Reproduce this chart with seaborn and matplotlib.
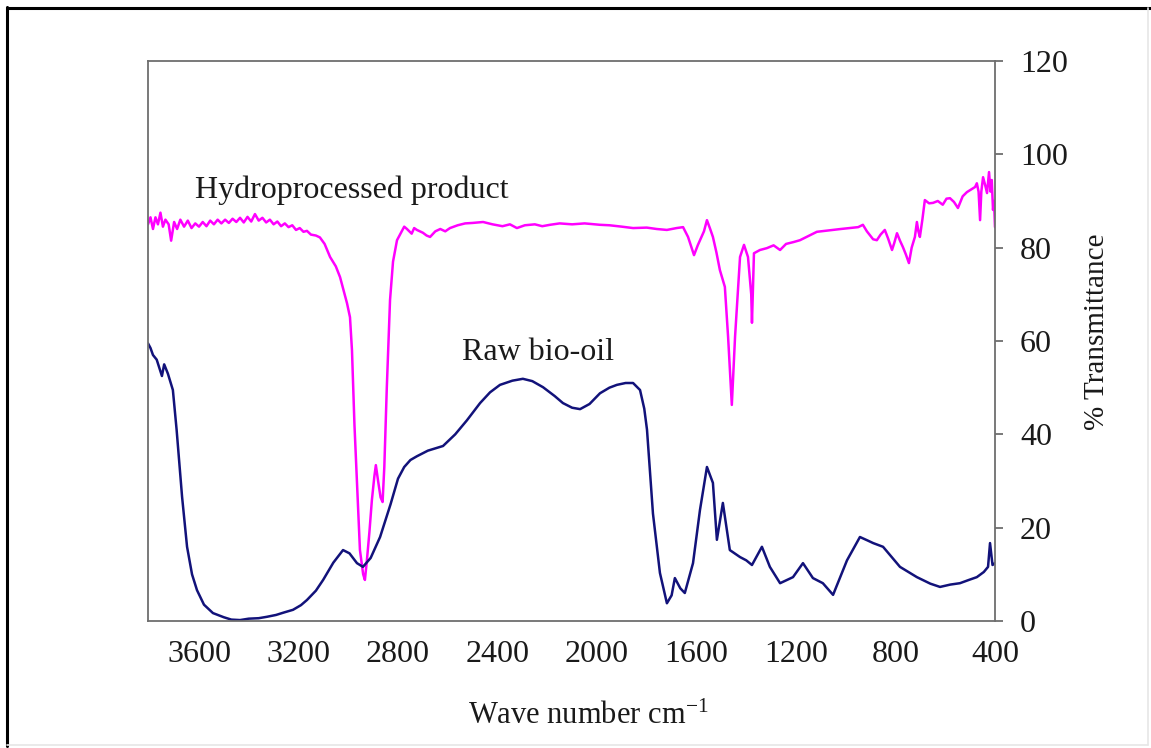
import matplotlib
matplotlib.use("Agg")
import matplotlib.pyplot as plt
import seaborn as sns
import pandas as pd
from matplotlib.lines import Line2D

# ---------------- data ----------------
raw_wn = [3805, 3795, 3785, 3770, 3749, 3740, 3725, 3705, 3690, 3668, 3648, 3628, 3608, 3580, 3544,
          3500, 3470, 3435, 3400, 3360, 3327, 3290, 3260, 3222, 3190, 3166, 3130, 3101, 3060, 3021,
          2995, 2965, 2941, 2910, 2872, 2830, 2800, 2775, 2750, 2724, 2680, 2619, 2570, 2523, 2470, 2430,
          2390, 2340, 2298, 2260, 2217, 2170, 2137, 2100, 2068, 2030, 1988, 1950, 1920, 1885, 1855,
          1827, 1810, 1799, 1775, 1747, 1719, 1700, 1687, 1665, 1647, 1614, 1586, 1558, 1534, 1518, 1494,
          1466, 1425, 1400, 1377, 1337, 1305, 1264, 1212, 1172, 1132, 1092, 1051, 995, 943, 910, 890,
          850, 782, 714, 660, 621, 580, 541, 505, 473, 445, 428, 420, 410, 400]
raw_t = [59.5, 58.5, 57.0, 56.0, 52.5, 55.0, 53.0, 49.5, 41.0, 26.6, 15.9, 10.0, 6.6, 3.5, 1.7,
         0.8, 0.3, 0.2, 0.5, 0.6, 0.9, 1.3, 1.8, 2.4, 3.4, 4.5, 6.5, 8.8, 12.5, 15.2,
         14.5, 12.4, 11.6, 13.5, 18.0, 25.0, 30.5, 33.0, 34.5, 35.3, 36.5, 37.5, 40.0, 43.0, 46.7, 49.0,
         50.6, 51.5, 51.9, 51.4, 50.1, 48.2, 46.7, 45.7, 45.4, 46.5, 48.8, 50.0, 50.6, 51.0, 51.0,
         49.5, 45.5, 41.0, 23.0, 10.3, 3.8, 5.5, 9.2, 7.0, 6.0, 12.4, 23.8, 33.0, 29.6, 17.4, 25.3,
         15.2, 13.7, 13.0, 12.0, 15.9, 11.6, 8.1, 9.4, 12.4, 9.2, 8.1, 5.6, 13.0, 18.0, 17.2, 16.7,
         15.9, 11.6, 9.4, 8.0, 7.3, 7.8, 8.1, 8.8, 9.4, 10.5, 11.6, 16.7, 12.0, 12.4]

hyd_wn = [3805, 3795, 3785, 3775, 3765, 3755, 3745, 3735, 3722, 3712, 3700, 3688, 3675, 3660, 3645,
          3630, 3615, 3600, 3585, 3570, 3555, 3540, 3525, 3510, 3495, 3480, 3465, 3450, 3435, 3420,
          3405, 3390, 3375, 3360, 3345, 3330, 3315, 3300, 3285, 3270, 3255, 3240, 3225, 3210, 3195,
          3180, 3166, 3150, 3130, 3114, 3095, 3073, 3050, 3033, 3005, 2993, 2985, 2975, 2965, 2953,
          2940, 2933, 2925, 2915, 2905, 2895, 2889, 2880, 2870, 2862, 2855, 2845, 2832, 2820, 2804,
          2790, 2775, 2764, 2745, 2735, 2724, 2700, 2685, 2671, 2650, 2630, 2610, 2591, 2560, 2530,
          2500, 2458, 2420, 2380, 2350, 2322, 2290, 2250, 2220, 2189, 2150, 2100, 2050, 1988, 1950,
          1900, 1855, 1800, 1760, 1719, 1680, 1654, 1634, 1610, 1595, 1586, 1570, 1558, 1545, 1534,
          1520, 1506, 1486, 1473, 1458, 1445, 1425, 1409, 1393, 1380, 1377, 1369, 1345, 1317, 1290,
          1264, 1240, 1210, 1184, 1150, 1116, 1085, 1051, 1020, 983, 950, 931, 915, 903, 890,
          875, 860, 843, 830, 814, 805, 794, 782, 770, 758, 746, 735, 722, 714, 708,
          702, 692, 682, 665, 649, 630, 610, 595, 581, 565, 549, 530, 513, 495, 480,
          473, 466, 460, 455, 448, 440, 432, 428, 424, 418, 413, 408, 404, 400]
hyd_t = [85.0, 86.5, 84.0, 86.5, 85.0, 87.5, 84.5, 86.0, 85.0, 81.5, 85.5, 84.0, 86.0, 84.5, 85.8,
         84.2, 85.2, 84.5, 85.5, 84.6, 85.8, 85.0, 86.0, 85.2, 86.0, 85.3, 86.2, 85.5, 86.4, 85.4,
         86.6, 85.6, 87.2, 85.8, 86.4, 85.4, 86.0, 85.0, 85.6, 84.6, 85.2, 84.4, 84.8, 83.8, 84.2,
         83.4, 83.6, 82.8, 82.6, 82.2, 80.8, 78.0, 76.0, 73.7, 68.1, 65.1, 58.0, 42.0, 29.6, 15.2,
         10.0, 8.8, 13.0, 19.0, 25.9, 31.0, 33.4, 30.0, 26.5, 25.5, 33.0, 50.0, 68.8, 77.0, 81.6,
         83.0, 84.5, 84.0, 83.0, 84.2, 83.8, 83.2, 82.6, 82.3, 83.5, 84.0, 83.5, 84.2, 84.8, 85.2,
         85.3, 85.5, 85.0, 84.6, 85.0, 84.2, 84.8, 85.0, 84.6, 84.9, 85.2, 85.0, 85.2, 84.9, 84.8,
         84.5, 84.2, 84.3, 84.0, 83.8, 84.2, 84.4, 82.3, 78.4, 80.5, 81.6, 83.5, 85.9, 84.0, 82.3,
         79.0, 75.2, 71.6, 60.9, 46.3, 60.9, 78.0, 80.6, 78.0, 70.0, 63.9, 78.8, 79.5, 79.9, 80.5,
         79.5, 80.8, 81.2, 81.6, 82.5, 83.4, 83.6, 83.8, 84.0, 84.2, 84.4, 84.9, 83.5, 82.7, 81.8,
         81.6, 82.8, 83.8, 82.0, 79.5, 81.0, 83.1, 81.5, 80.1, 78.5, 76.7, 80.0, 82.3, 85.5, 83.5,
         82.3, 86.0, 90.2, 89.5, 89.6, 90.0, 89.2, 90.5, 90.6, 89.8, 88.5, 91.0, 91.9, 92.5, 93.0,
         93.8, 92.0, 85.9, 92.0, 95.1, 93.5, 91.7, 94.0, 96.2, 92.0, 94.5, 88.1, 90.0, 84.4]

series_names = ["Hydroprocessed product", "Raw bio-oil"]
series_colors = ["#ff00ff", "#12127a"]
x_ticks = [3600, 3200, 2800, 2400, 2000, 1600, 1200, 800, 400]
y_ticks = [0, 20, 40, 60, 80, 100, 120]

df = pd.concat([
    pd.DataFrame({"wn": hyd_wn, "T": hyd_t, "sample": series_names[0]}),
    pd.DataFrame({"wn": raw_wn, "T": raw_t, "sample": series_names[1]}),
], ignore_index=True)

# ---------------- style ----------------
sns.set_style("white")
plt.rcParams["font.family"] = ["Liberation Serif", "DejaVu Serif"]
plt.rcParams["mathtext.fontset"] = "custom"
plt.rcParams["mathtext.rm"] = "Liberation Serif"
plt.rcParams["mathtext.it"] = "Liberation Serif:italic"

W, H = 1151, 748
fig = plt.figure(figsize=(W / 100, H / 100), dpi=100)
ax = fig.add_axes([148 / W, 1 - 621 / H, (995 - 148) / W, (621 - 61) / H])

sns.lineplot(data=df, x="wn", y="T", hue="sample", hue_order=series_names,
             palette=series_colors, legend=False, linewidth=1.8, ax=ax,
             estimator=None, sort=False)

ax.set_xlim(3805, 400)
ax.set_ylim(0, 120)
ax.set_xticks(x_ticks)
ax.set_yticks(y_ticks)
ax.yaxis.tick_right()
ax.set_xlabel("")
ax.set_ylabel("")

axis_col = "#6e6e6e"
for s in ax.spines.values():
    s.set_visible(True)
    s.set_color(axis_col)
    s.set_linewidth(1.3)
ax.tick_params(axis="both", which="major", direction="out", colors=axis_col,
               labelcolor="#1a1a1a", labelsize=23, width=1.3)
ax.tick_params(axis="x", length=7, pad=7)
ax.tick_params(axis="y", length=6, pad=12, right=True, left=False)
ax.grid(False)

ax.text(3616, 92.3, series_names[0], fontsize=23, color="#1a1a1a", ha="left", va="center")
ax.text(2543, 57.6, series_names[1], fontsize=23, color="#1a1a1a", ha="left", va="center")

fig.text(588 / W, 1 - 716 / H, r"Wave number cm$^{\mathrm{-1}}$", fontsize=22,
         color="#1a1a1a", ha="center", va="center")
fig.text(1097 / W, 1 - 332 / H, "% Transmittance", fontsize=21, color="#1a1a1a",
         rotation=90, ha="center", va="center")

# outer frame of the image
fig.add_artist(Line2D([7 / W, 7 / W], [1 - 7 / H, 1 - 746 / H], transform=fig.transFigure,
                      color="black", linewidth=2.2))
fig.add_artist(Line2D([7 / W, 1], [1 - 7.5 / H, 1 - 7.5 / H], transform=fig.transFigure,
                      color="black", linewidth=2.2))
fig.add_artist(Line2D([7 / W, 1148 / W], [1 - 745 / H, 1 - 745 / H], transform=fig.transFigure,
                      color="#e6e6e6", linewidth=1.2))
fig.add_artist(Line2D([1148 / W, 1148 / W], [1 - 8 / H, 1 - 745 / H], transform=fig.transFigure,
                      color="#e6e6e6", linewidth=1.2))

fig.savefig("out.png", dpi=100)
